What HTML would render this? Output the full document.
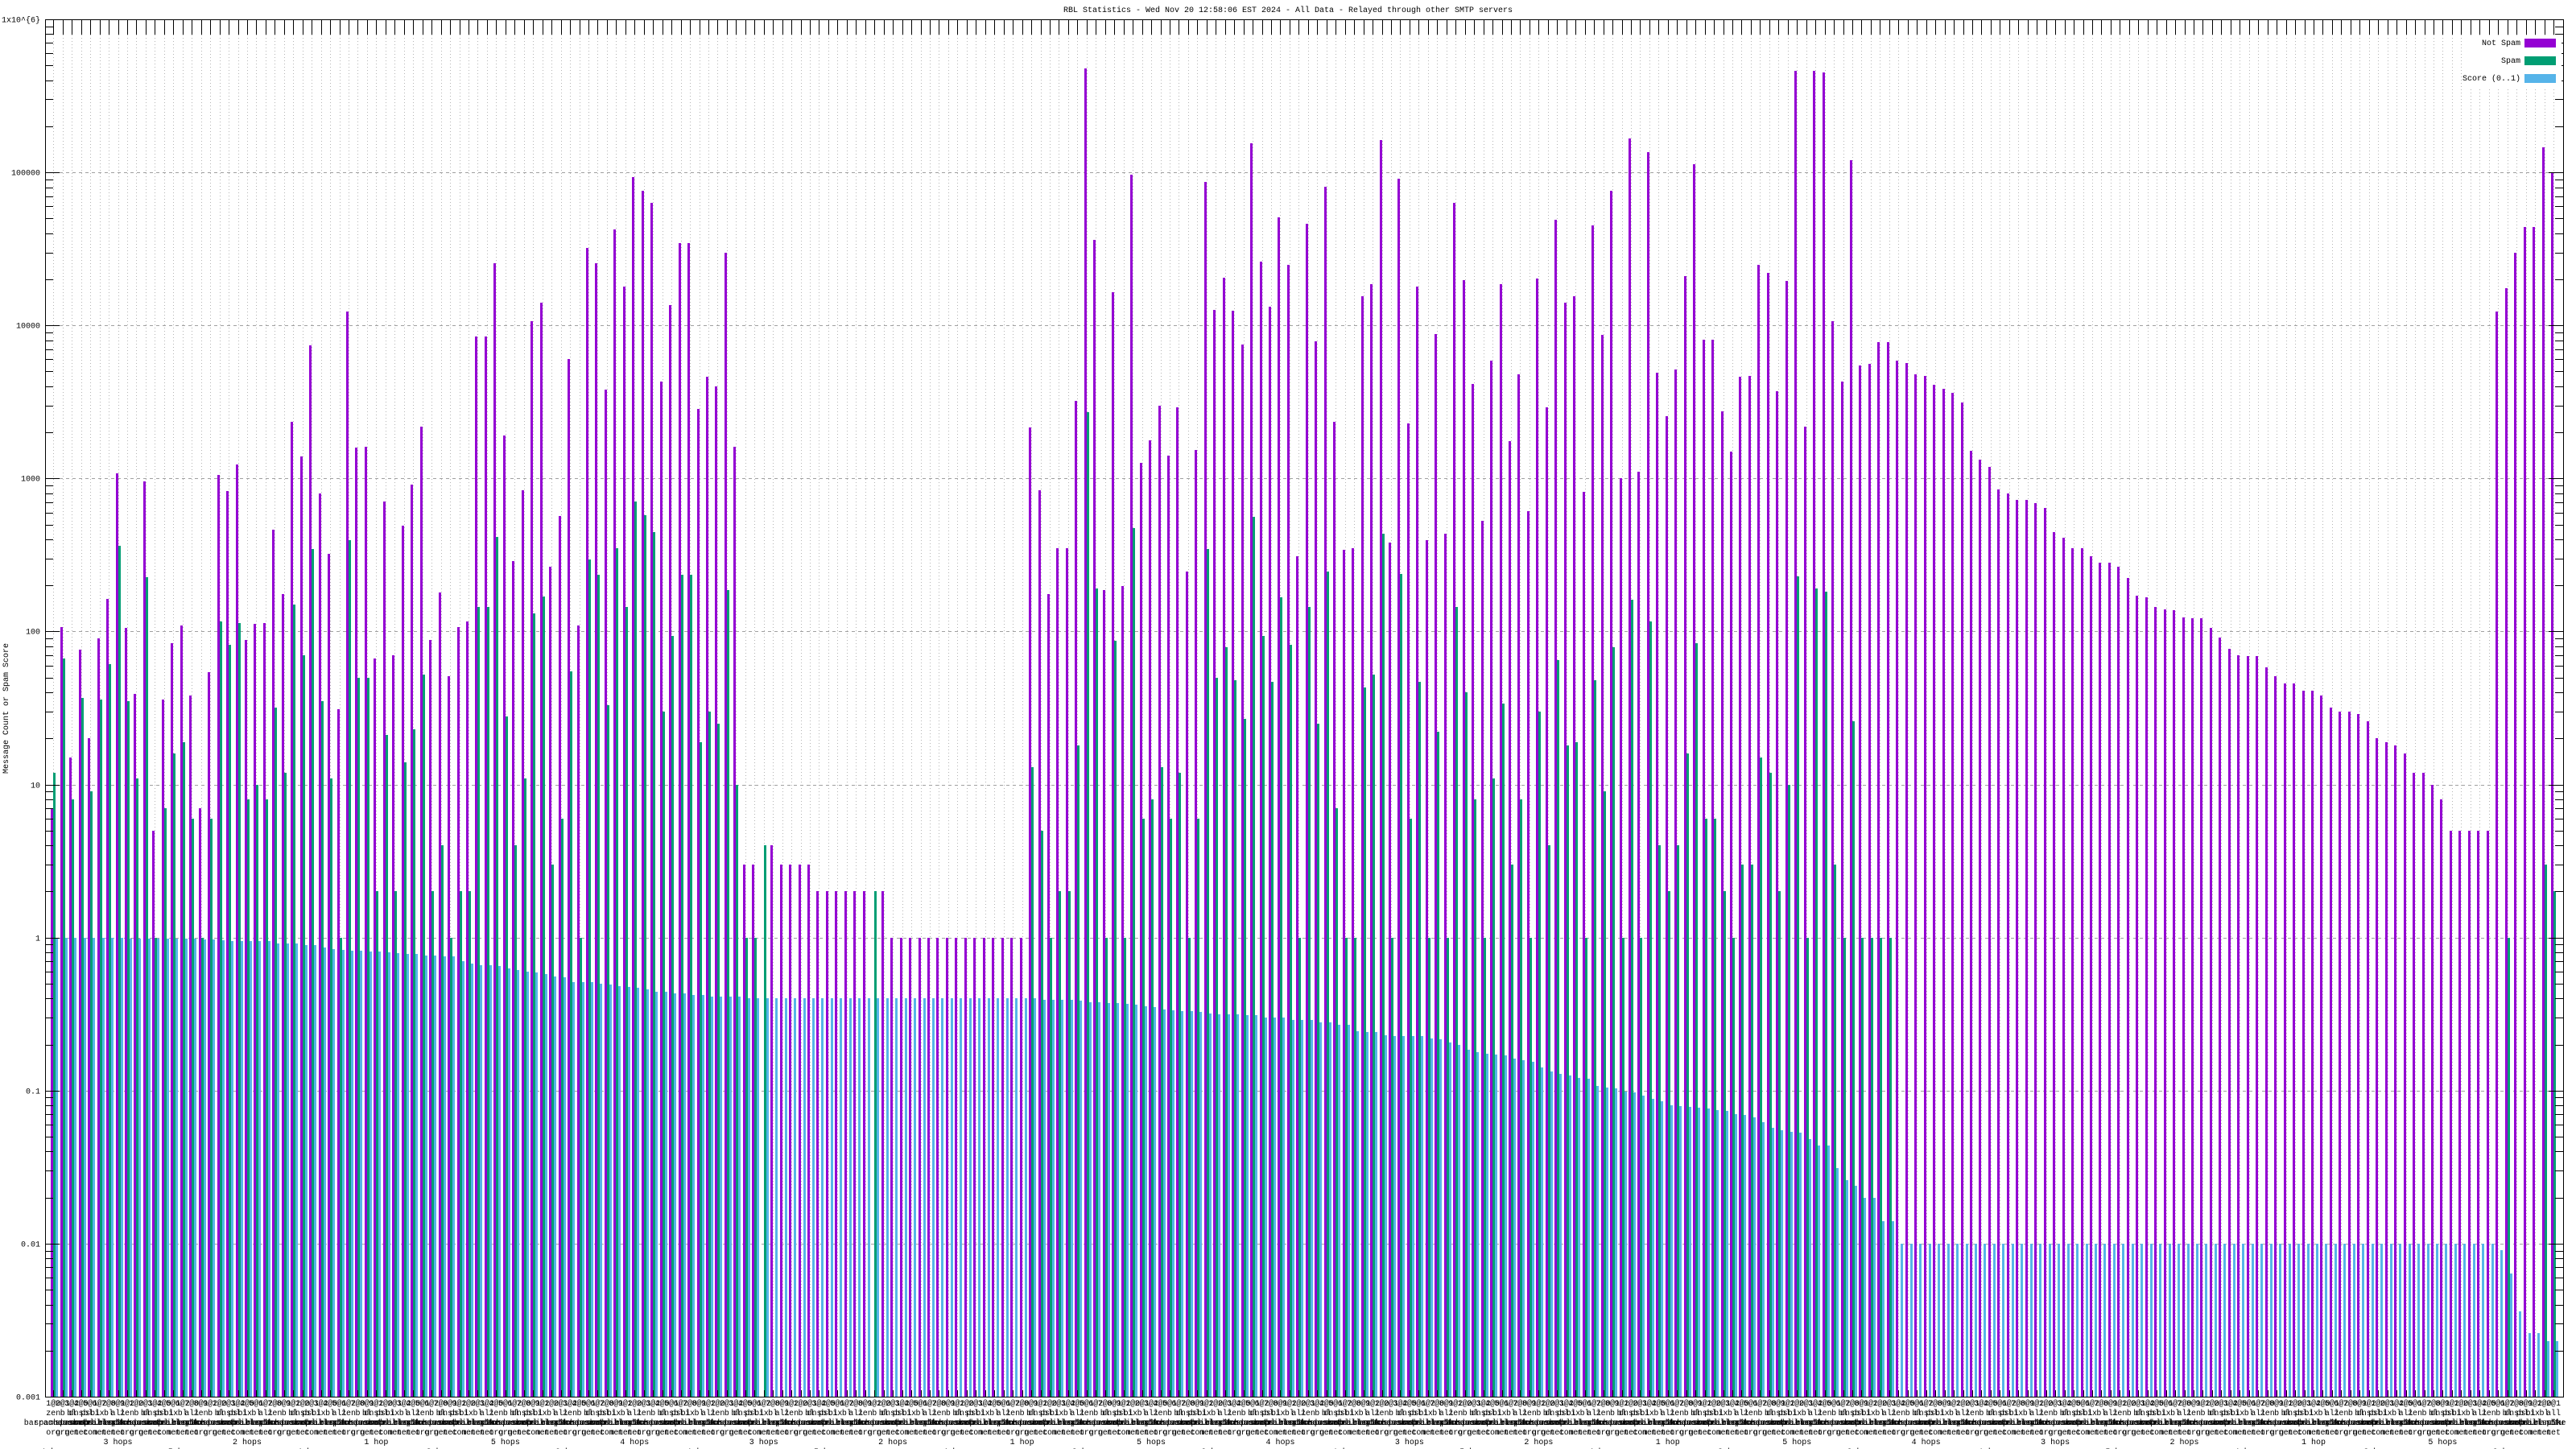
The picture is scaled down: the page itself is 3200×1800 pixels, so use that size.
<!DOCTYPE html>
<html><head><meta charset="utf-8"><style>
html,body{margin:0;padding:0;background:#fff;width:3200px;height:1800px;overflow:hidden}
svg{display:block}
text{font-family:"Liberation Mono","DejaVu Sans Mono",monospace;fill:#000}
</style></head><body>
<svg id="chart" width="3200" height="1800" viewBox="0 0 3200 1800" xmlns="http://www.w3.org/2000/svg">
<text x="1600" y="15" font-size="10" text-anchor="middle">RBL Statistics - Wed Nov 20 12:58:06 EST 2024 - All Data - Relayed through other SMTP servers</text>
<text transform="translate(10,880) rotate(-90)" font-size="10" text-anchor="middle">Message Count or Spam Score</text>
<g id="grid" shape-rendering="crispEdges"></g><g id="bars" shape-rendering="crispEdges"></g><g id="axes" shape-rendering="crispEdges"></g><g id="xlabels"></g><g id="legend" shape-rendering="crispEdges"></g>
</svg>
<script>
const notSpam=[7,107,15,76,20,90,164,1080,106,39,960,5,36,84,110,38,7,54,1060,830,1230,88,112,113,460,175,2330,1390,7400,800,320,31,12300,1590,1610,67,710,70,490,915,2180,88,180,51,107,116,8500,
8500,25600,1900,288,840,10600,14000,264,565,6000,110,32000,25600,3800,42600,18000,93000,76000,63000,4300,13600,34500,34500,2850,4600,4000,30000,1620,3,3,0,4,3,3,3,3,2,2,2,2,2,2,0,2,1,1,1,
1,1,1,1,1,1,1,1,1,1,1,1,2150,840,175,350,350,3200,480000,36000,187,16500,197,97000,1260,1780,3000,1410,2900,245,1530,87000,12600,20500,12400,7500,155000,26000,13200,51000,25000,310,46000,7900,81000,2350,340,
350,15500,18700,162000,382,91000,2300,18000,395,8800,437,63000,19800,4150,530,5850,18500,1750,4800,610,20300,2930,49000,14000,15500,815,45000,8700,76000,1000,166000,1100,135000,4900,2560,5150,21000,113000,8100,8100,2750,1500,4600,4700,25000,22000,3700,
19500,460000,2180,460000,450000,10600,4300,120000,5450,5600,7800,7800,5850,5700,4800,4700,4100,3870,3630,3130,1510,1320,1185,850,795,725,725,690,645,445,410,350,350,310,283,283,264,223,172,168,145,140,138,124,122,122,105,
91,77,70,69,69,58,51,46,46,41,41,38,32,30,30,29,26,20,19,18,16,12,12,10,8,5,5,5,5,5,12300,17500,30000,44000,44000,145000,99000];
const spam=[12,67,8,37,9,36,61,363,35,11,226,1,7,16,19,6,1,6,116,82,114,8,10,8,32,12,150,70,345,35,11,1,395,50,50,2,21,2,14,23,52,2,4,1,2,2,145,
145,415,28,4,11,132,170,3,6,55,1,297,235,33,350,145,710,575,445,30,94,235,235,19,30,25,187,10,1,1,4,0,0,0,0,0,0,0,0,0,0,0,2,0,0,0,0,
0,0,0,0,0,0,0,0,0,0,0,0,13,5,1,2,2,18,2700,192,1,87,1,475,6,8,13,6,12,1,6,345,50,79,48,27,560,94,47,168,82,1,145,25,245,7,1,
1,43,52,433,1,237,6,47,1,22,1,145,40,8,1,11,34,3,8,1,30,4,65,18,19,1,48,9,79,1,161,1,116,4,2,4,16,84,6,6,2,1,3,3,15,12,2,
10,230,1,192,182,3,1,26,1,1,1,1,0,0,0,0,0,0,0,0,0,0,0,0,0,0,0,0,0,0,0,0,0,0,0,0,0,0,0,0,0,0,0,0,0,0,0,
0,0,0,0,0,0,0,0,0,0,0,0,0,0,0,0,0,0,0,0,0,0,0,0,0,0,0,0,0,0,0,1,0,0,0,3,2];
const score=[1,1,1,1,1,0.99,0.99,0.99,0.98,0.98,0.98,0.98,0.98,0.98,0.98,0.98,0.97,0.97,0.96,0.95,0.95,0.95,0.95,0.95,0.92,0.92,0.92,0.89,0.89,0.86,0.84,0.83,0.82,0.82,0.81,0.81,0.80,0.79,0.78,0.78,0.76,0.76,0.75,0.75,0.70,0.68,0.66,
0.66,0.65,0.63,0.61,0.60,0.59,0.58,0.56,0.55,0.51,0.51,0.51,0.50,0.495,0.48,0.475,0.47,0.46,0.44,0.44,0.43,0.43,0.42,0.42,0.41,0.41,0.41,0.41,0.40,0.40,0.40,0.40,0.40,0.40,0.40,0.40,0.40,0.40,0.40,0.40,0.40,0.40,0.40,0.40,0.40,0.40,0.40,
0.40,0.40,0.40,0.40,0.40,0.40,0.40,0.40,0.40,0.40,0.40,0.40,0.40,0.39,0.39,0.39,0.39,0.385,0.38,0.38,0.375,0.375,0.37,0.365,0.355,0.35,0.34,0.335,0.33,0.33,0.325,0.32,0.315,0.315,0.315,0.31,0.31,0.30,0.30,0.30,0.29,0.29,0.29,0.28,0.28,0.27,0.27,
0.245,0.24,0.24,0.23,0.226,0.226,0.226,0.226,0.22,0.217,0.206,0.20,0.185,0.178,0.175,0.173,0.169,0.162,0.158,0.154,0.142,0.133,0.128,0.126,0.121,0.119,0.107,0.105,0.103,0.099,0.097,0.093,0.088,0.085,0.080,0.079,0.078,0.077,0.076,0.075,0.074,0.070,0.069,0.067,0.062,0.057,0.055,
0.054,0.053,0.048,0.044,0.044,0.031,0.026,0.024,0.020,0.020,0.014,0.014,
0.01,0.01,0.01,0.01,0.01,0.01,0.01,0.01,0.01,0.01,0.01,0.01,0.01,0.01,0.01,0.01,0.01,0.01,0.01,0.01,0.01,0.01,0.01,0.01,0.01,0.01,0.01,0.01,0.01,0.01,0.01,0.01,0.01,0.01,0.01,0.01,0.01,0.01,0.01,0.01,0.01,0.01,0.01,0.01,0.01,0.01,0.01,0.01,0.01,0.01,0.01,0.01,0.01,0.01,0.01,0.01,0.01,0.01,0.01,0.01,0.01,0.01,0.01,0.01,0.01,
0.0091,0.0064,0.0036,0.0026,0.0026,0.0023,0.0023];
const yTickLabels=["0.001","0.01","0.1","1","10","100","1000","10000","100000","1x10^{6}"];
const rblNames=["zen.spamhaus.org","b.barracudacentral.org","bl.spamcop.net","dnsbl.sorbs.net","psbl.surriel.com","ix.dnsbl.manitu.net","bl.mailspike.net","all.s5h.net"];
const hopLabels=["1 hop","2 hops","3 hops","4 hops","5 hops"];

const NS="http://www.w3.org/2000/svg";
const L=56,R=3184,T=24,B=1735,DEC=(B-T)/9;
const N=notSpam.length, STEP=11.46, X0=66.3;
function xc(i){return X0+i*STEP;}
function yv(v){return B-(Math.log10(v)+3)*DEC;}
function mk(tag,attrs,parent){const e=document.createElementNS(NS,tag);for(const k in attrs)e.setAttribute(k,attrs[k]);parent.appendChild(e);return e;}
const grid=document.getElementById('grid'),bars=document.getElementById('bars'),axes=document.getElementById('axes'),xl=document.getElementById('xlabels'),lg=document.getElementById('legend');

for(let i=0;i<N;i++){
  const x=Math.round(xc(i))+0.5;
  const g=mk('line',{x1:x,x2:x,y1:T+19,y2:B-10,stroke:'#b4b4b4','stroke-width':1,'stroke-dasharray':'1,3'},grid);
  
  
}
for(let d=1;d<9;d++){
  const y=Math.round(yv(Math.pow(10,d-3)))+0.5;
  const h=mk('line',{x1:L+18,x2:R-18,y1:y,y2:y,stroke:'#a0a0a0','stroke-width':1,'stroke-dasharray':'4,4'},grid);
  
  
}
const series=[{d:notSpam,c:'#9400d3',off:-3,w:3,n:'not-spam-bar'},{d:spam,c:'#009e73',off:0,w:3,n:'spam-bar'},{d:score,c:'#56b4e9',off:3,w:3,n:'score-bar'}];
series.forEach(s=>{
  for(let i=0;i<N;i++){
    const v=s.d[i]; if(!(v>0))continue;
    const y=Math.round(Math.max(T,yv(v)));
    const r=mk('rect',{x:Math.round(xc(i))+s.off,y:y,width:s.w,height:Math.max(0,B-y),fill:s.c},bars);
    
    
  }
});
mk('rect',{x:L+0.5,y:T+0.5,width:R-L,height:B-T,fill:'none',stroke:'#000','stroke-width':1},axes);
for(let d=0;d<=9;d++){
  const y=Math.round(yv(Math.pow(10,d-3)))+0.5;
  mk('line',{x1:L,x2:L+18,y1:y,y2:y,stroke:'#000','stroke-width':1},axes);
  mk('line',{x1:R-18,x2:R,y1:y,y2:y,stroke:'#000','stroke-width':1},axes);
  const t=mk('text',{x:L-6,y:y+3,'font-size':10,'text-anchor':'end'},axes);
  t.textContent=yTickLabels[d];
  
  
  if(d<9)for(let m=2;m<=9;m++){
    const ym=Math.round(yv(m*Math.pow(10,d-3)))+0.5;
    mk('line',{x1:L,x2:L+10,y1:ym,y2:ym,stroke:'#000','stroke-width':1},axes);
    mk('line',{x1:R-10,x2:R,y1:ym,y2:ym,stroke:'#000','stroke-width':1},axes);
  }
}
for(let i=0;i<N;i++){
  const x=Math.round(xc(i))+0.5;
  mk('line',{x1:x,x2:x,y1:T,y2:T+19,stroke:'#000','stroke-width':1},axes);
  mk('line',{x1:x,x2:x,y1:B-8,y2:B,stroke:'#000','stroke-width':1},axes);
  const name=rblNames[i%rblNames.length];
  const parts=[(1+i%9)+"@"+(i%3),name.split('.')[0],name.split('.').slice(1,-1).join('.'),name.split('.').slice(-1)[0],hopLabels[i%5]];
  parts.forEach((p,j)=>{
    if(j===4&&i%7!==0)return;
    const t=mk('text',{x:xc(i),y:1746+j*12+(j===4&&i%14===0?12:0),'font-size':10,'text-anchor':'middle'},xl);
    t.textContent=p;
    
    
  });
}
mk('rect',{x:3060,y:44,width:122,height:66,fill:'#fff'},lg);
[['Not Spam','#9400d3'],['Spam','#009e73'],['Score (0..1)','#56b4e9']].forEach((e,j)=>{
  const y=53+j*22;
  const t=mk('text',{x:3131,y:y+3,'font-size':10,'text-anchor':'end'},lg);
  t.textContent=e[0];
  
  
  const r=mk('rect',{x:3136,y:y-5,width:39,height:11,fill:e[1]},lg);
  
  
});
</script>
</body></html>
